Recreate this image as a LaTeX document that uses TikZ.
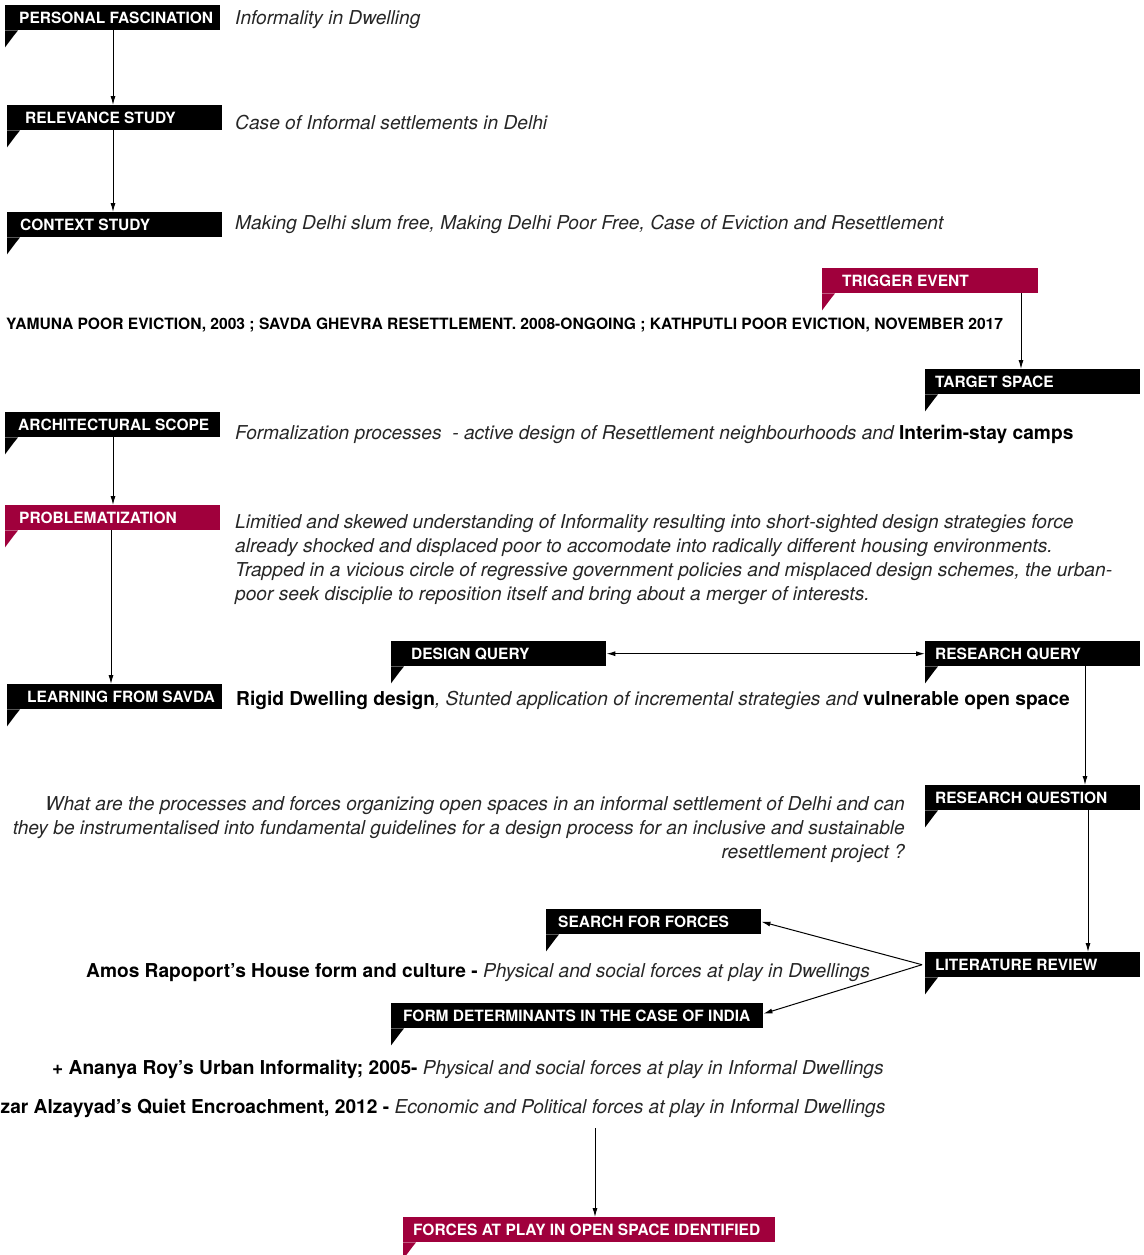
\documentclass[tikz,border=0pt]{standalone}
\usepackage{fontspec}
\setmainfont{TeX Gyre Heros}
\usetikzlibrary{arrows.meta}
\definecolor{crimson}{HTML}{A0003C}
\definecolor{inkgray}{HTML}{262626}
\newcommand{\tagtxt}[3]{\makebox[#1][l]{\hspace*{#2}#3}}
\newcommand{\keyterm}[1]{{\upshape\bfseries\color{black}#1}}
\begin{document}
\begin{tikzpicture}[x=1pt,y=-1pt,
  tag/.style={fill=black,text=white,anchor=north west,inner sep=0pt,minimum height=25pt,
    text height=11pt,text depth=0pt,font=\fontsize{15.5}{18}\selectfont\bfseries},
  redtag/.style={tag,fill=crimson},
  note/.style={anchor=base west,inner sep=0pt,text=inkgray,font=\fontsize{19.15}{24}\selectfont\itshape},
  caps/.style={anchor=base west,inner sep=0pt,font=\fontsize{15.6}{18}\selectfont\bfseries},
  link/.style={-{Latex[length=9pt,width=5pt]},line width=1pt},
  twolink/.style={{Latex[length=9pt,width=5pt]}-{Latex[length=9pt,width=5pt]},line width=1pt}]
\useasboundingbox (0,0) rectangle (1143,1255);

\node[tag] (pf) at (5,5) {\tagtxt{215pt}{14pt}{PERSONAL FASCINATION}};
\node[tag] (rs) at (7,105) {\tagtxt{215pt}{18pt}{RELEVANCE STUDY}};
\node[tag] (cs) at (7,212) {\tagtxt{215pt}{13pt}{CONTEXT STUDY}};
\node[redtag] (te) at (822,268) {\tagtxt{216pt}{20pt}{TRIGGER EVENT}};
\node[tag] (ts) at (925,369) {\tagtxt{215pt}{10pt}{TARGET SPACE}};
\node[tag] (as) at (5,412) {\tagtxt{215pt}{13pt}{ARCHITECTURAL SCOPE}};
\node[redtag] (pb) at (5,505) {\tagtxt{215pt}{14pt}{PROBLEMATIZATION}};
\node[tag] (ls) at (7,684) {\tagtxt{215pt}{20pt}{LEARNING FROM SAVDA}};
\node[tag] (dq) at (391,641) {\tagtxt{215pt}{20pt}{DESIGN QUERY}};
\node[tag] (rq) at (925,641) {\tagtxt{215pt}{10pt}{RESEARCH QUERY}};
\node[tag] (rqn) at (925,785) {\tagtxt{215pt}{10pt}{RESEARCH QUESTION}};
\node[tag] (sf) at (546,909) {\tagtxt{215pt}{12pt}{SEARCH FOR FORCES}};
\node[tag] (lr) at (925,952) {\tagtxt{215pt}{10pt}{LITERATURE REVIEW}};
\node[tag] (fd) at (391,1003) {\tagtxt{372pt}{12pt}{FORM DETERMINANTS IN THE CASE OF INDIA}};
\node[redtag] (fp) at (403,1217) {\tagtxt{372pt}{10pt}{FORCES AT PLAY IN OPEN SPACE IDENTIFIED}};

\foreach \n in {pf,rs,cs,ts,as,ls,dq,rq,rqn,sf,lr,fd}
  \fill (\n.south west) -- ++(0,17) -- ++(9,-12) -- ++(4,-5) -- cycle;
\foreach \n in {te,pb,fp}
  \fill[crimson] (\n.south west) -- ++(0,17) -- ++(9,-12) -- ++(4,-5) -- cycle;

\node[note] (t1) at (235,25) {Informality in Dwelling};
\node[note] (t2) at (235,129) {Case of Informal settlements in Delhi};
\node[note] (t3) at (235,229) {Making Delhi slum free, Making Delhi Poor Free, Case of Eviction and Resettlement};
\node[caps] (t4) at (6,329) {YAMUNA POOR EVICTION, 2003 ; SAVDA GHEVRA RESETTLEMENT. 2008-ONGOING ; KATHPUTLI POOR EVICTION, NOVEMBER 2017};
\node[note] (t5) at (235,439) {Formalization processes\ \ - active design of Resettlement neighbourhoods and \keyterm{Interim-stay camps}};
\node[note,anchor=north west,align=left] (t6) at (235,514) {Limitied and skewed understanding of Informality resulting into short-sighted design strategies force\\
  already shocked and displaced poor to accomodate into radically different housing environments.\\
  Trapped in a vicious circle of regressive government policies and misplaced design schemes, the urban-\\
  poor seek disciplie to reposition itself and bring about a merger of interests.};
\node[note] (t7) at (236,705) {\keyterm{Rigid Dwelling design}, Stunted application of incremental strategies and \keyterm{vulnerable open space}};
\node[note,anchor=north east,align=right] (t8) at (905,796) {What are the processes and forces organizing open spaces in an informal settlement of Delhi and can\\
  they be instrumentalised into fundamental guidelines for a design process for an inclusive and sustainable\\
  resettlement project ?};
\node[note] (t9) at (86,977) {\keyterm{Amos Rapoport’s House form and culture -} Physical and social forces at play in Dwellings};
\node[note] (t10) at (52,1074) {\keyterm{+ Ananya Roy’s Urban Informality; 2005-} Physical and social forces at play in Informal Dwellings};
\node[note] (t11) at (0.5,1113) {\keyterm{zar Alzayyad’s Quiet Encroachment, 2012 -} Economic and Political forces at play in Informal Dwellings};

\draw[link] ([xshift=108pt]pf.south west) -- ([xshift=106pt]rs.north west);
\draw[link] ([xshift=106pt]rs.south west) -- ([xshift=106pt]cs.north west);
\draw[link] ([xshift=199pt]te.south west) -- ([xshift=96pt]ts.north west);
\draw[link] ([xshift=108pt]as.south west) -- ([xshift=108pt]pb.north west);
\draw[link] ([xshift=106pt]pb.south west) -- ([xshift=104pt]ls.north west);
\draw[twolink] (dq.east) -- (rq.west);
\draw[link] ([xshift=160pt]rq.south west) -- ([xshift=160pt]rqn.north west);
\draw[link] ([xshift=163pt]rqn.south west) -- ([xshift=163pt]lr.north west);
\coordinate (lrtip) at ([xshift=-3pt]lr.west);
\draw[link] (lrtip) -- (sf.east);
\draw[link] (lrtip) -- ([yshift=2pt]fd.east);
\coordinate (srcend) at (595,1128);
\draw[link] (srcend) -- ([xshift=192pt]fp.north west);
\end{tikzpicture}
\end{document}
